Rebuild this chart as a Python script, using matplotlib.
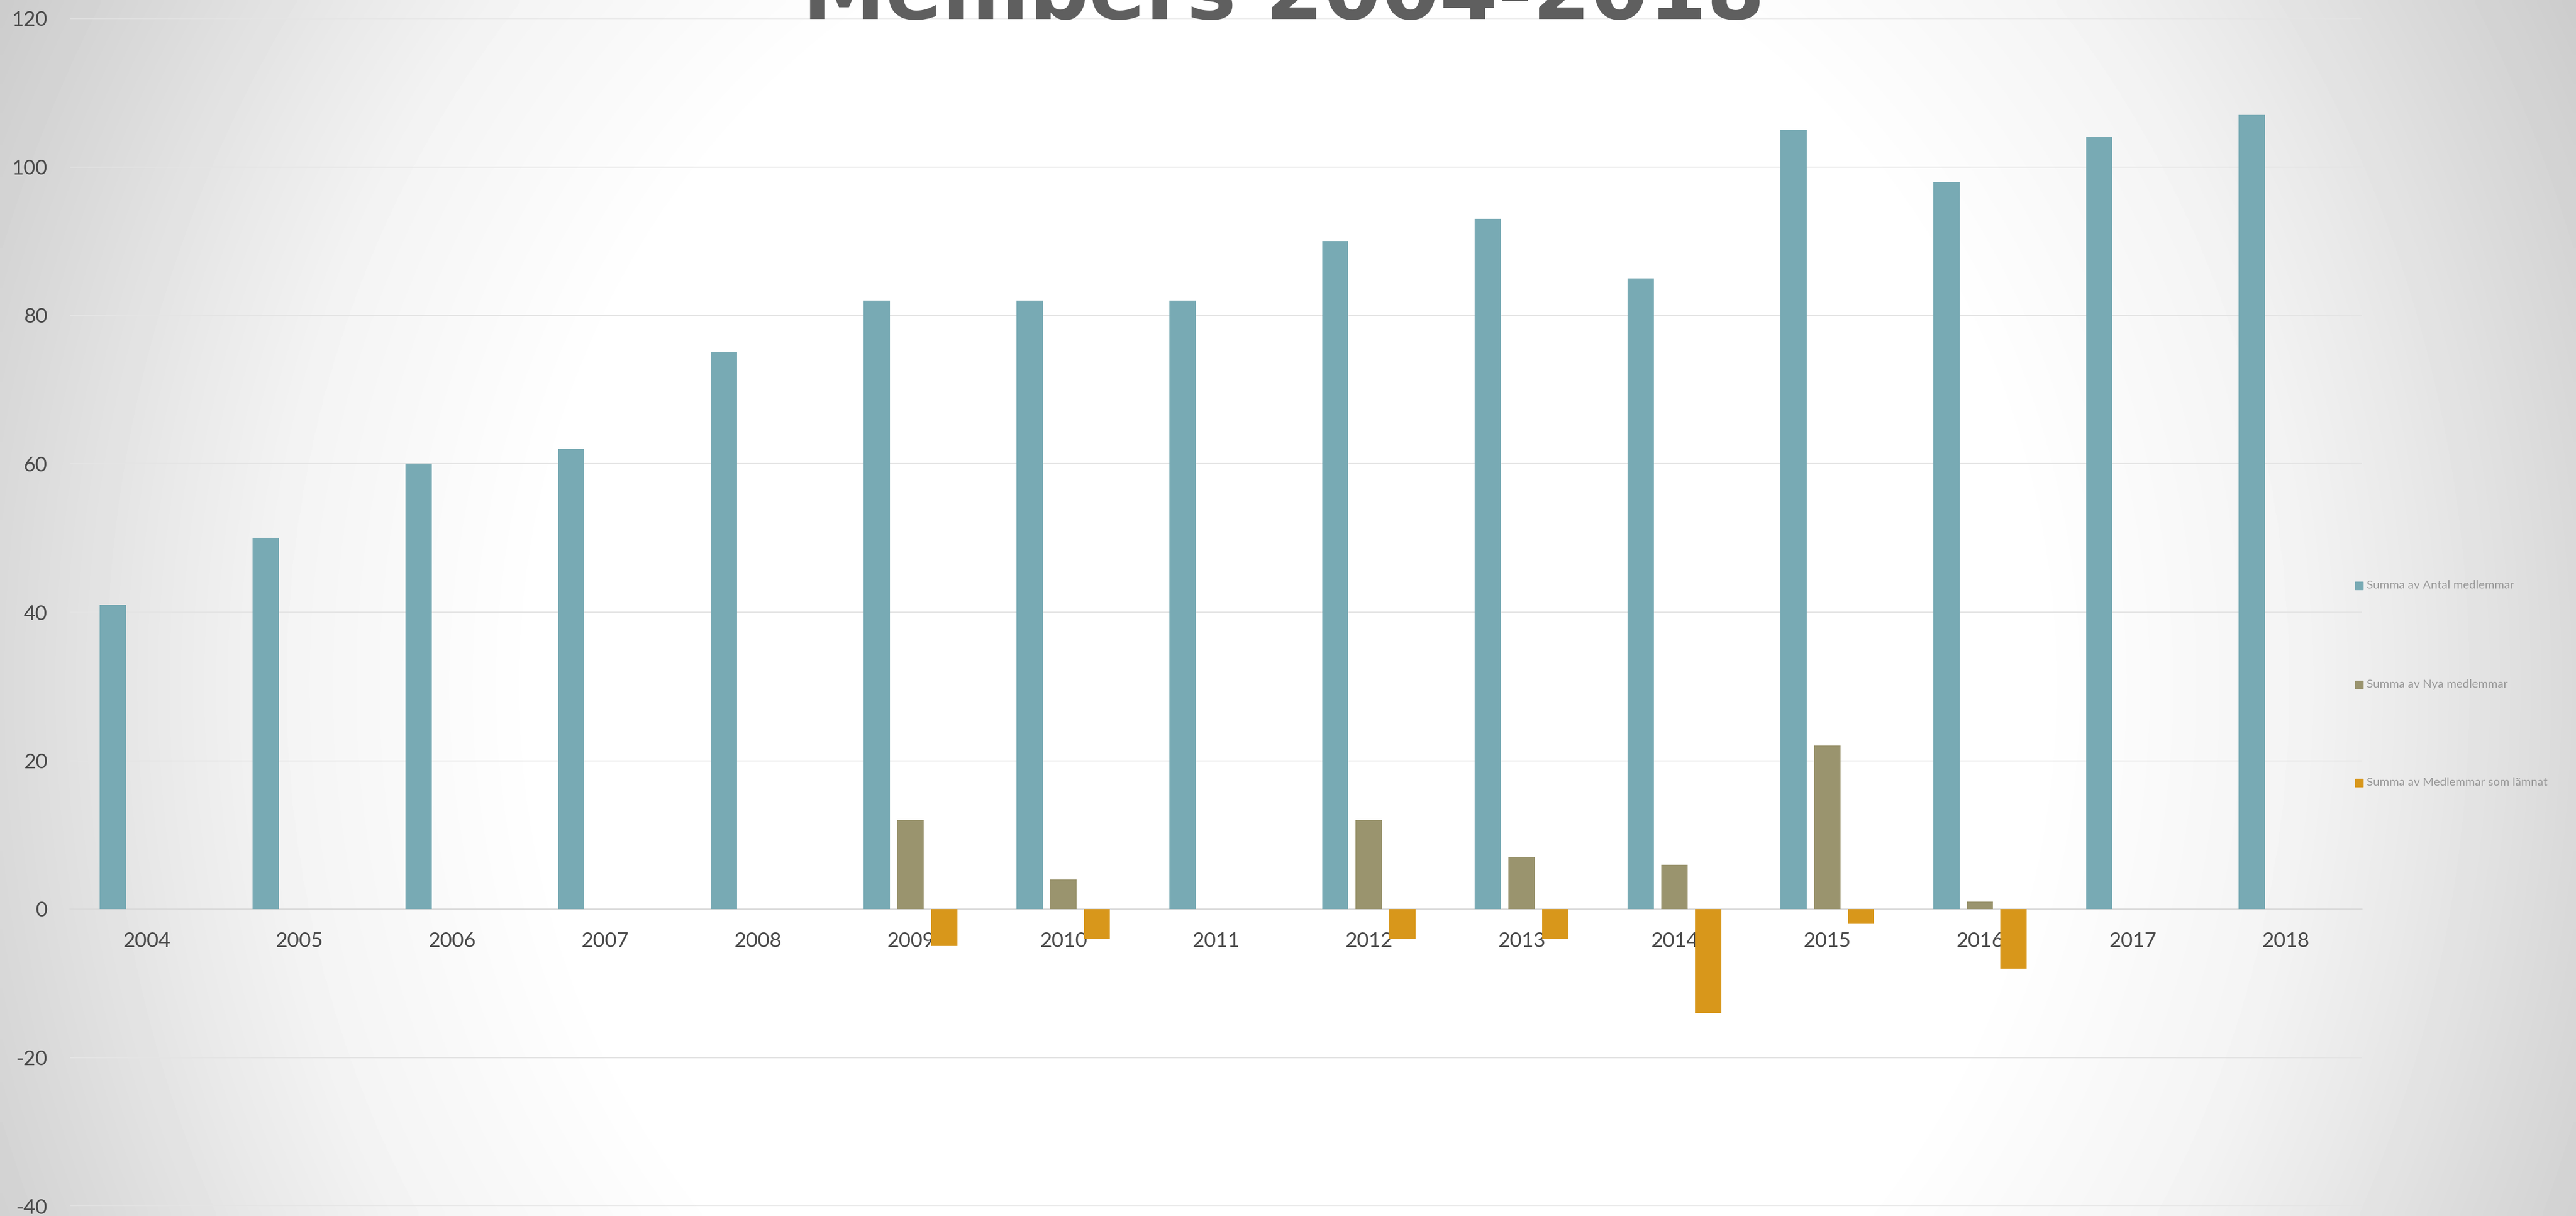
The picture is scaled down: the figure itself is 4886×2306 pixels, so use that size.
import numpy as np
import matplotlib
matplotlib.use('Agg')
import matplotlib.pyplot as plt
from matplotlib.patches import Rectangle

# ---- data ----
years = [str(y) for y in range(2004, 2019)]
antal = [41, 50, 60, 62, 75, 82, 82, 82, 90, 93, 85, 105, 98, 104, 107]
nya = [0, 0, 0, 0, 0, 12, 4, 0, 12, 7, 6, 22, 1, 0, 0]
lamnat = [0, 0, 0, 0, 0, -5, -4, 0, -4, -4, -14, -2, -8, 0, 0]
series_labels = ['Summa av Antal medlemmar', 'Summa av Nya medlemmar',
                 'Summa av Medlemmar som lämnat']
colors = ['#78AAB4', '#9A946E', '#D8971B']
yticks = [-40, -20, 0, 20, 40, 60, 80, 100, 120]
title = 'Members 2004-2018'

plt.rcParams['font.family'] = ['Lato', 'DejaVu Sans']

W, H = 4886, 2306
fig = plt.figure(figsize=(W / 100, H / 100), dpi=100)

# background radial gradient
bg = fig.add_axes([0, 0, 1, 1], zorder=-10)
nx, ny = 489, 231
xx, yy = np.meshgrid(np.linspace(0, W, nx), np.linspace(0, H, ny))
u = (xx - 2443) / 2443
v = (yy - 1300) / 1300 * 0.5
d = np.sqrt(u ** 2 + v ** 2)
g = np.interp(d, [0, 0.58, 0.78, 0.88, 1.0, 1.12, 1.6],
              [255, 255, 244, 233, 218, 204, 180]) / 255
bg.imshow(g, cmap='gray', vmin=0, vmax=1, extent=[0, W, H, 0],
          aspect='auto', interpolation='bilinear')
bg.set_xlim(0, W)
bg.set_ylim(H, 0)
bg.axis('off')

# main axes
ax = fig.add_axes([133 / W, 1 - 2287 / H, (4480 - 133) / W, (2287 - 35) / H])
ax.set_facecolor('none')
x = np.arange(len(years))
w = 0.172
off = 0.22
for i, (vals, c) in enumerate(zip([antal, nya, lamnat], colors)):
    ax.bar(x + (i - 1) * off, vals, w, color=c, zorder=3, label=series_labels[i])

ax.set_xlim(-0.5, len(years) - 0.5)
ax.set_ylim(-40, 120)
ax.set_yticks(yticks)
ax.set_yticklabels([str(t) for t in yticks])
ax.set_xticks(x)
ax.set_xticklabels(years)
ax.grid(axis='y', color='#e4e4e4', lw=1.5)
ax.grid(axis='x', visible=False)
ax.set_axisbelow(True)
for s in ['top', 'right', 'left']:
    ax.spines[s].set_visible(False)
ax.spines['bottom'].set_position(('data', 0))
ax.spines['bottom'].set_color('#d9d9d9')
ax.spines['bottom'].set_linewidth(1.5)
ax.tick_params(axis='both', length=0, labelsize=28, labelcolor='#4a4a4a')
ax.tick_params(axis='x', pad=31)
ax.tick_params(axis='y', pad=31)

# legend (manual, right side)
for c, lab, yc in zip(colors, series_labels, [1110, 1298, 1484]):
    fig.add_artist(Rectangle((4467 / W, 1 - (yc + 7.5) / H), 15 / W, 15 / H,
                             transform=fig.transFigure, color=c))
    fig.text(4489 / W, 1 - yc / H, lab, fontsize=16, color='#999999',
             va='center', ha='left')

# title (partly cut off at top)
fig.text(2435 / W, 1 - 36 / H, title, fontsize=114, fontweight='bold',
         family='DejaVu Sans', color='#5f5f5f', ha='center', va='baseline')

fig.savefig('out.png', dpi=100)
